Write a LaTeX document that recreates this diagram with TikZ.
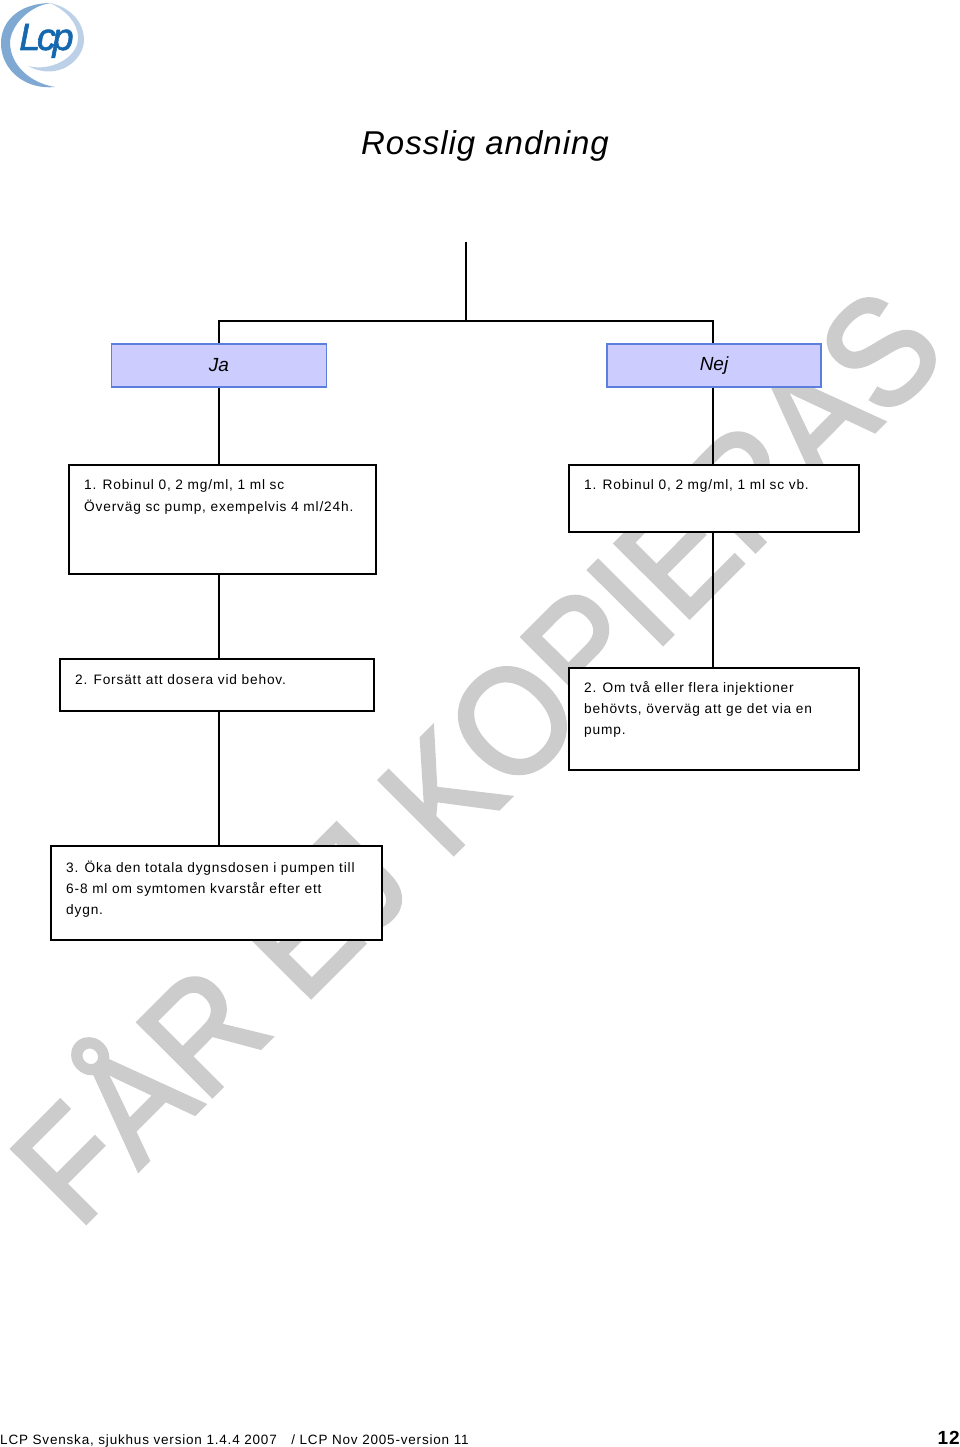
\documentclass[tikz,border=0pt]{standalone}
\usepackage{fontspec}
\setmainfont{Liberation Sans}
\newfontfamily\boxfont[LetterSpace=6]{Liberation Sans}
\newfontfamily\titlefont[LetterSpace=3]{Liberation Sans}
\newfontfamily\logofont[LetterSpace=-9,FakeBold=1.5]{Liberation Sans}
\newfontfamily\markfont[FakeBold=2.5]{Liberation Sans}
\usetikzlibrary{positioning}
\definecolor{markgray}{HTML}{CCCCCC}
\definecolor{jafill}{HTML}{CCCCFF}
\definecolor{jaline}{HTML}{5B7FDB}
\definecolor{logodark}{HTML}{7FA9D2}
\definecolor{logolight}{HTML}{BCD1E8}
\definecolor{logotext}{HTML}{1468AE}
\tikzset{
	answer/.style={draw=jaline,fill=jafill,line width=1.5pt,minimum height=43pt,inner sep=0pt,font=\fontsize{19}{19}\selectfont\itshape},
	stepbox/.style={draw=black,fill=white,line width=2pt,inner sep=0pt},
	steptext/.style={anchor=north west,inner sep=0pt,align=left,font=\fontsize{13.7}{21}\boxfont},
	link/.style={line width=2pt}
}
\begin{document}
\begin{tikzpicture}[x=1pt,y=-1pt]
	\useasboundingbox (0,0) rectangle (960,1447);

	\node[rotate=45.1,xscale=.92,anchor=base west,inner sep=0pt,text=markgray,font=\fontsize{152}{152}\markfont] (mark) at (78,1231) {FÅR EJ KOPIERAS};

	\fill[logodark] (52,3) .. controls (15,3) and (0,25) .. (1,45) .. controls (2,70) and (25,90) .. (55,87) .. controls (30,83) and (10,65) .. (10,42) .. controls (11,25) and (30,5) .. (52,3);
	\fill[logolight] (50,3) .. controls (70,7) and (84,22) .. (84,40) .. controls (84,60) and (58,82) .. (28,66) .. controls (50,72) and (78,58) .. (78,38) .. controls (78,22) and (65,10) .. (50,3);
	\node[anchor=base west,text=logotext,inner sep=0pt,font=\fontsize{38}{38}\logofont\itshape] (logo) at (19,50) {Lcp};

	\node[font=\fontsize{33}{33}\titlefont\itshape,inner sep=0pt] (title) at (485,146) {Rosslig andning};

	\coordinate (top) at (466,242);
	\coordinate (fork) at (466,321);

	\node[answer,minimum width=215pt] (ja) at (219,365.5) {Ja};
	\node[answer,minimum width=214pt] (nej) at (714,365.5) {Nej};

	\node[stepbox,minimum width=307pt,minimum height=109pt] (left1) at (222.5,519.5) {};
	\node[stepbox,minimum width=314pt,minimum height=52pt] (left2) at (217,685) {};
	\node[stepbox,minimum width=331pt,minimum height=94pt] (left3) at (216.5,893) {};
	\node[stepbox,minimum width=290pt,minimum height=67pt] (right1) at (714,498.5) {};
	\node[stepbox,minimum width=290pt,minimum height=102pt] (right2) at (714,719) {};

	\draw[link] (top) -- (fork);
	\draw[link] (ja.north) |- (fork) -| ([xshift=-1pt]nej.north);
	\draw[link] (ja.south) -- (ja.south |- left1.north);
	\draw[link] (ja.south |- left1.south) -- (ja.south |- left2.north);
	\draw[link] (ja.south |- left2.south) -- (ja.south |- left3.north);
	\draw[link] ([xshift=-1pt]nej.south) -- ([xshift=-1pt]nej.south |- right1.north);
	\draw[link] ([xshift=-1pt]nej.south |- right1.south) -- ([xshift=-1pt]nej.south |- right2.north);

	\node[steptext,font=\fontsize{13.7}{22}\boxfont] (text1) at (84,479.5) {1. Robinul 0, 2 mg/ml, 1 ml sc\\Överväg sc pump, exempelvis 4 ml/24h.};
	\node[steptext] (text2) at (75,674.5) {2. Forsätt att dosera vid behov.};
	\node[steptext] (text3) at (66,861) {3. Öka den totala dygnsdosen i pumpen till\\6-8 ml om symtomen kvarstår efter ett\\dygn.};
	\node[steptext] (text4) at (584,479.5) {1. Robinul 0, 2 mg/ml, 1 ml sc vb.};
	\node[steptext] (text5) at (584,681.5) {2. Om två eller flera injektioner\\behövts, överväg att ge det via en\\pump.};

	\node[anchor=base west,inner sep=0pt,font=\fontsize{13.5}{13.5}\boxfont] (footer) at (0,1444) {LCP Svenska, sjukhus version 1.4.4 2007\hspace{10pt} / LCP Nov 2005-version 11};
	\node[anchor=base east,inner sep=0pt,font=\fontsize{19}{19}\boxfont\bfseries] (page) at (960,1444) {12};
\end{tikzpicture}
\end{document}
